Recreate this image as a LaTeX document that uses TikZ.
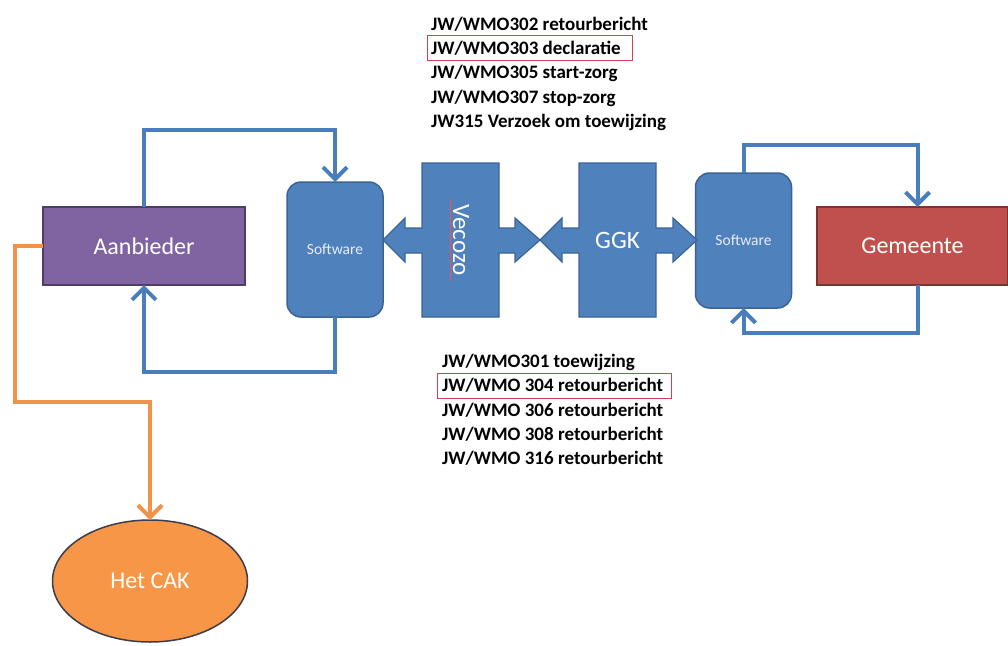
\documentclass[tikz,border=0pt]{standalone}
\usepackage{fontspec}
\setmainfont{Carlito}
\usetikzlibrary{arrows.meta,shapes.geometric,calc}
\definecolor{blfill}{HTML}{4F81BD}
\definecolor{bledge}{HTML}{3A6496}
\definecolor{blline}{HTML}{4A7EBB}
\definecolor{pufill}{HTML}{8064A2}
\definecolor{puedge}{HTML}{4E3D66}
\definecolor{refill}{HTML}{C0504D}
\definecolor{reedge}{HTML}{7E3331}
\definecolor{orfill}{HTML}{F79646}
\definecolor{oredge}{HTML}{3C3C4A}
\definecolor{orline}{HTML}{F0924A}
\definecolor{boxred}{HTML}{D04050}
\tikzset{
  bigbox/.style={draw, line width=1.5pt, inner sep=0pt, outer sep=0pt, text=white, font=\fontsize{24}{28}\selectfont},
  swbox/.style={draw=bledge, fill=blfill, line width=1.5pt, rounded corners=14pt, inner sep=0pt, outer sep=0pt, minimum width=96pt, minimum height=135pt, text=white!92!blue, font=\fontsize{15.5}{18}\selectfont},
  conn/.style={draw=blline, line width=4pt, -{Straight Barb[length=12pt,width=24pt,line width=4pt]}},
  oconn/.style={draw=orline, line width=4pt, -{Straight Barb[length=12pt,width=24pt,line width=4pt]}},
  msg/.style={anchor=base west, inner sep=0pt, font=\fontsize{19}{22}\selectfont\bfseries},
  redbox/.style={draw=boxred, line width=1pt},
  callout/.style={draw=bledge, fill=blfill, line width=1.2pt, line join=miter},
  lbl/.style={text=white, font=\fontsize{25}{29}\selectfont, inner sep=0pt}
}
\begin{document}
\begin{tikzpicture}[x=1pt,y=-1pt]
\useasboundingbox[fill=white] (0,0) rectangle (1008,645);

% boxes
\node[bigbox, draw=puedge, fill=pufill, minimum width=202pt, minimum height=78pt] (aanb) at (144,246) {Aanbieder};
\node[bigbox, draw=reedge, fill=refill, minimum width=191pt, minimum height=78pt] (gem) at (912.5,246) {Gemeente};
\node[bigbox, ellipse, draw=oredge, fill=orfill, minimum width=195pt, minimum height=122pt] (cak) at (150,581) {Het CAK};
\node[swbox] (swL) at (335,249.5) {Software};
\node[swbox] (swR) at (743.5,240.5) {Software};

% Vecozo / GGK double-arrow blocks
\draw[callout] (383,240) -- (405,218) -- (405,228) -- (422,228) -- (422,163) -- (499,163) -- (499,228) -- (515,228) -- (515,218) -- (540,240) -- (515,262) -- (515,253) -- (499,253) -- (499,317) -- (422,317) -- (422,253) -- (405,253) -- (405,262) -- cycle;
\draw[callout] (540,240) -- (562,218) -- (562,228) -- (579,228) -- (579,163) -- (656,163) -- (656,228) -- (673,228) -- (673,218) -- (697,240) -- (673,262) -- (673,253) -- (656,253) -- (656,317) -- (579,317) -- (579,253) -- (562,253) -- (562,262) -- cycle;
\node[lbl, rotate=-90] (vec) at (461,240) {Vecozo};
\draw[red!70!white, line width=0.8pt] ($(vec.center)+(-11,-41)$) -- ($(vec.center)+(-11,41)$);
\node[lbl] (ggk) at (617.5,240) {GGK};

% loops
\draw[conn] (aanb.north) -- ++(0,-77) -| (swL.north);
\draw[conn] (swL.south) -- ++(0,55) -| (aanb.south);
\draw[conn] (swR.north) -- ++(0,-28) -| ([xshift=5pt]gem.north);
\draw[conn] ([xshift=5pt]gem.south) -- ++(0,48) -| (swR.south);
\draw[oconn] (aanb.west) -| ++(-28,156) -| (cak.north);

% message lists
\node[msg] (t1) at (431,30.5) {JW/WMO302 retourbericht};
\node[msg] (t2) at (431,54.7) {JW/WMO303 declaratie};
\node[msg] (t3) at (431,78.9) {JW/WMO305 start-zorg};
\node[msg] (t4) at (431,103.1) {JW/WMO307 stop-zorg};
\node[msg] (t5) at (431,127.3) {JW315 Verzoek om toewijzing};
\draw[redbox] (427,35) rectangle (632,60);

\node[msg] (b1) at (442,367.3) {JW/WMO301 toewijzing};
\node[msg] (b2) at (442,391.7) {JW/WMO 304 retourbericht};
\node[msg] (b3) at (442,416.1) {JW/WMO 306 retourbericht};
\node[msg] (b4) at (442,440.5) {JW/WMO 308 retourbericht};
\node[msg] (b5) at (442,464.9) {JW/WMO 316 retourbericht};
\draw[redbox] (437,373) rectangle (671,398);
\end{tikzpicture}
\end{document}
